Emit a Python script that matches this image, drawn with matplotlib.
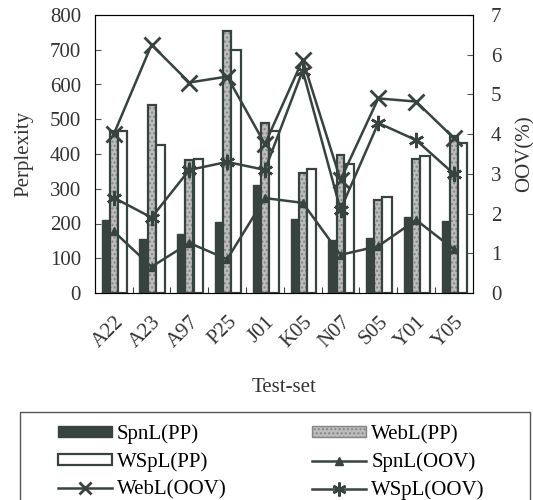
import numpy as np
import matplotlib.pyplot as plt
import matplotlib.transforms as mtransforms
from matplotlib.lines import Line2D
from matplotlib.patches import Patch, Rectangle

plt.rcParams['font.family'] = ['Liberation Serif', 'DejaVu Serif']
plt.rcParams['hatch.linewidth'] = 1.0

test_sets = ["A22", "A23", "A97", "P25", "J01", "K05", "N07", "S05", "Y01", "Y05"]

# perplexity (left axis)
spnl_pp = [210, 155, 170, 205, 310, 213, 153, 158, 218, 208]
webl_pp = [465, 540, 382, 755, 490, 346, 397, 268, 387, 453]
wspl_pp = [465, 425, 385, 700, 465, 357, 371, 276, 393, 433]

# OOV rate in % (right axis)
spnl_oov = [1.55, 0.66, 1.26, 0.85, 2.39, 2.27, 0.96, 1.18, 1.84, 1.1]
webl_oov = [4.0, 6.25, 5.3, 5.45, 3.75, 5.87, 2.85, 4.9, 4.82, 3.9]
wspl_oov = [2.4, 1.9, 3.1, 3.3, 3.1, 5.6, 2.1, 4.28, 3.85, 3.0]

dark = '#37433f'
txt = '#333333'
fs = 15
fig = plt.figure(figsize=(5.33, 5.0), dpi=100)
ax = fig.add_axes([0.178, 0.414, 0.709, 0.556])

x = np.arange(len(test_sets))
ax.bar(x - 0.19, spnl_pp, width=0.26, color=dark, edgecolor=dark, lw=1)
ax.bar(x, webl_pp, width=0.21, color='#bdbdbd', edgecolor='#858585', hatch='....', lw=0)
ax.bar(x, webl_pp, width=0.21, fill=False, edgecolor=dark, lw=1.6)
ax.bar(x + 0.235, wspl_pp, width=0.25, color='white', edgecolor=dark, lw=1.6)

ax.set_xlim(-0.5, 9.5)
ax.set_ylim(0, 800)
ax.set_yticks(range(0, 801, 100))
ax.set_xticks(x[:-1] + 0.5)
ax.set_xticklabels([])
ax.set_xticks(x, minor=True)
ax.set_xticklabels(test_sets, minor=True, rotation=45, ha='right', va='top',
                   rotation_mode='anchor', fontsize=fs, color=txt)
shift = mtransforms.ScaledTranslation(-7 / 100, -10 / 100, fig.dpi_scale_trans)
for lab in ax.get_xticklabels(minor=True):
    lab.set_transform(lab.get_transform() + shift)
ax.tick_params(axis='x', which='major', direction='in', length=4, color=dark)
ax.tick_params(axis='x', which='minor', length=0, pad=14)
ax.tick_params(axis='y', direction='in', length=4, labelsize=fs, labelcolor=txt,
               color='#555555', pad=10)
ax.set_ylabel("Perplexity", fontsize=fs, color=txt, labelpad=12)
ax.set_xlabel("Test-set", fontsize=fs, color=txt, labelpad=19)
for s in ax.spines.values():
    s.set_color('#555555')

ax2 = ax.twinx()
ax2.plot(x, spnl_oov, color=dark, lw=1.8, marker='^', ms=6)
ax2.plot(x, webl_oov, color=dark, lw=1.8, marker='x', ms=11, mew=2)
ax2.plot(x, wspl_oov, color=dark, lw=1.8, marker=(6, 2, 0), ms=11, mew=1.8)
ax2.set_ylim(0, 7)
ax2.set_yticks(range(0, 8))
ax2.tick_params(axis='y', direction='in', length=4, labelsize=fs, labelcolor=txt,
                color='#555555', pad=13)
ax2.set_ylabel("OOV(%)", fontsize=fs, color=txt, labelpad=10)

handles = [
    Patch(facecolor=dark, edgecolor=dark),
    Patch(facecolor='white', edgecolor=dark, lw=1.6),
    Line2D([], [], color=dark, lw=1.8, marker='x', ms=9, mew=2),
    Patch(facecolor='#bdbdbd', edgecolor='#858585', hatch='....'),
    Line2D([], [], color=dark, lw=1.8, marker='^', ms=6),
    Line2D([], [], color=dark, lw=1.8, marker=(6, 2, 0), ms=10, mew=1.8),
]
labels = ["SpnL(PP)", "WSpL(PP)", "WebL(OOV)", "WebL(PP)", "SpnL(OOV)", "WSpL(OOV)"]
fig.legend(handles, labels, ncol=2, loc='upper left', bbox_to_anchor=(0.108, 0.151),
           fontsize=fs, frameon=False, handlelength=2.6, handleheight=0.45,
           labelspacing=0.4, handletextpad=0.25, borderpad=0, borderaxespad=0,
           columnspacing=4.1, bbox_transform=fig.transFigure)
fig.patches.append(Rectangle((0.0375, -0.01), 0.957, 0.186, transform=fig.transFigure,
                             fill=False, edgecolor='#555555', lw=1))

plt.savefig("out.png", dpi=100)
